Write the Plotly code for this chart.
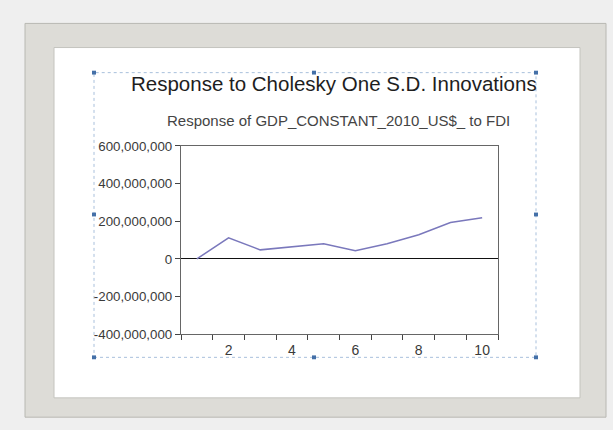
import plotly.graph_objects as go

W, H = 613, 430

periods = [1, 2, 3, 4, 5, 6, 7, 8, 9, 10]
response = [0, 112e6, 48e6, 66e6, 80e6, 43e6, 80e6, 128e6, 193e6, 219e6]

y_ticks = [-400e6, -200e6, 0, 200e6, 400e6, 600e6]
y_labels = ["-400,000,000", "-200,000,000", "0", "200,000,000", "400,000,000", "600,000,000"]
x_labels = [2, 4, 6, 8, 10]
x_minor = [0.5, 1.5, 2.5, 3.5, 4.5, 5.5, 6.5, 7.5, 8.5, 9.5, 10.5]

main_title = "Response to Cholesky One S.D. Innovations"
sub_title = "Response of GDP_CONSTANT_2010_US$_ to FDI"


def px(x):
    return x / W


def py(y):
    return 1 - y / H


fig = go.Figure()
fig.add_trace(go.Scatter(x=periods, y=response, mode="lines",
                         line=dict(color="#7a78bc", width=1.5),
                         showlegend=False, hoverinfo="skip"))

shapes = []
# outer frame
shapes.append(dict(type="rect", xref="paper", yref="paper", layer="below",
                   x0=px(25), x1=px(606), y0=py(425), y1=py(17),
                   fillcolor="#dddcd7", line=dict(color="#b8b8b2", width=1)))
# inner white mat
shapes.append(dict(type="rect", xref="paper", yref="paper", layer="below",
                   x0=px(54), x1=px(580), y0=py(405), y1=py(42),
                   fillcolor="#ffffff", line=dict(color="#c4c4be", width=1)))
# dotted selection rectangle
shapes.append(dict(type="rect", xref="paper", yref="paper", layer="below",
                   x0=px(94), x1=px(536), y0=py(363), y1=py(68),
                   fillcolor="rgba(0,0,0,0)", line=dict(color="#a9c0dc", width=1, dash="dot")))
# handles
for hx, hy in [(94, 68), (314, 68), (536, 68), (94, 215), (536, 215),
               (94, 363), (314, 363), (536, 363)]:
    shapes.append(dict(type="rect", xref="paper", yref="paper",
                       x0=px(hx - 2), x1=px(hx + 2), y0=py(hy + 2), y1=py(hy - 2),
                       fillcolor="#4470a8", line=dict(width=0)))

fig.update_layout(
    width=W, height=H,
    margin=dict(l=0, r=0, t=0, b=0),
    paper_bgcolor="#efefef",
    plot_bgcolor="#ffffff",
    font=dict(family="Liberation Sans, Arial, sans-serif", color="#444444", size=12),
    shapes=shapes,
    annotations=[
        dict(text=main_title, xref="paper", yref="paper", x=px(334), y=py(79),
             xanchor="center", yanchor="middle", showarrow=False,
             font=dict(size=20.5, color="#1e1e1e", family="Liberation Sans, Arial, sans-serif")),
        dict(text=sub_title, xref="paper", yref="paper", x=px(338), y=py(118),
             xanchor="center", yanchor="middle", showarrow=False,
             font=dict(size=15, color="#444444", family="Liberation Sans, Arial, sans-serif")),
    ],
    xaxis=dict(domain=[px(181), px(498)], range=[0.5, 10.5],
               tickmode="array", tickvals=x_labels, ticktext=[str(v) for v in x_labels],
               ticks="", showgrid=False, zeroline=False,
               showline=True, linecolor="#666666", linewidth=1.3, mirror=True,
               tickfont=dict(size=14, color="#3a3a3a"), ticklabelstandoff=3,
               minor=dict(tickmode="array", tickvals=x_minor, ticks="outside",
                          ticklen=5, tickcolor="#444444", showgrid=False)),
    yaxis=dict(domain=[py(339), py(144)], range=[-400e6, 600e6],
               tickmode="array", tickvals=y_ticks, ticktext=y_labels,
               ticks="outside", ticklen=5, tickcolor="#444444",
               showgrid=False, zeroline=True, zerolinecolor="#111111", zerolinewidth=1.2,
               showline=True, linecolor="#666666", linewidth=1.3, mirror=True,
               tickfont=dict(size=13.3, color="#3a3a3a")),
)

fig.write_html("out.html")
